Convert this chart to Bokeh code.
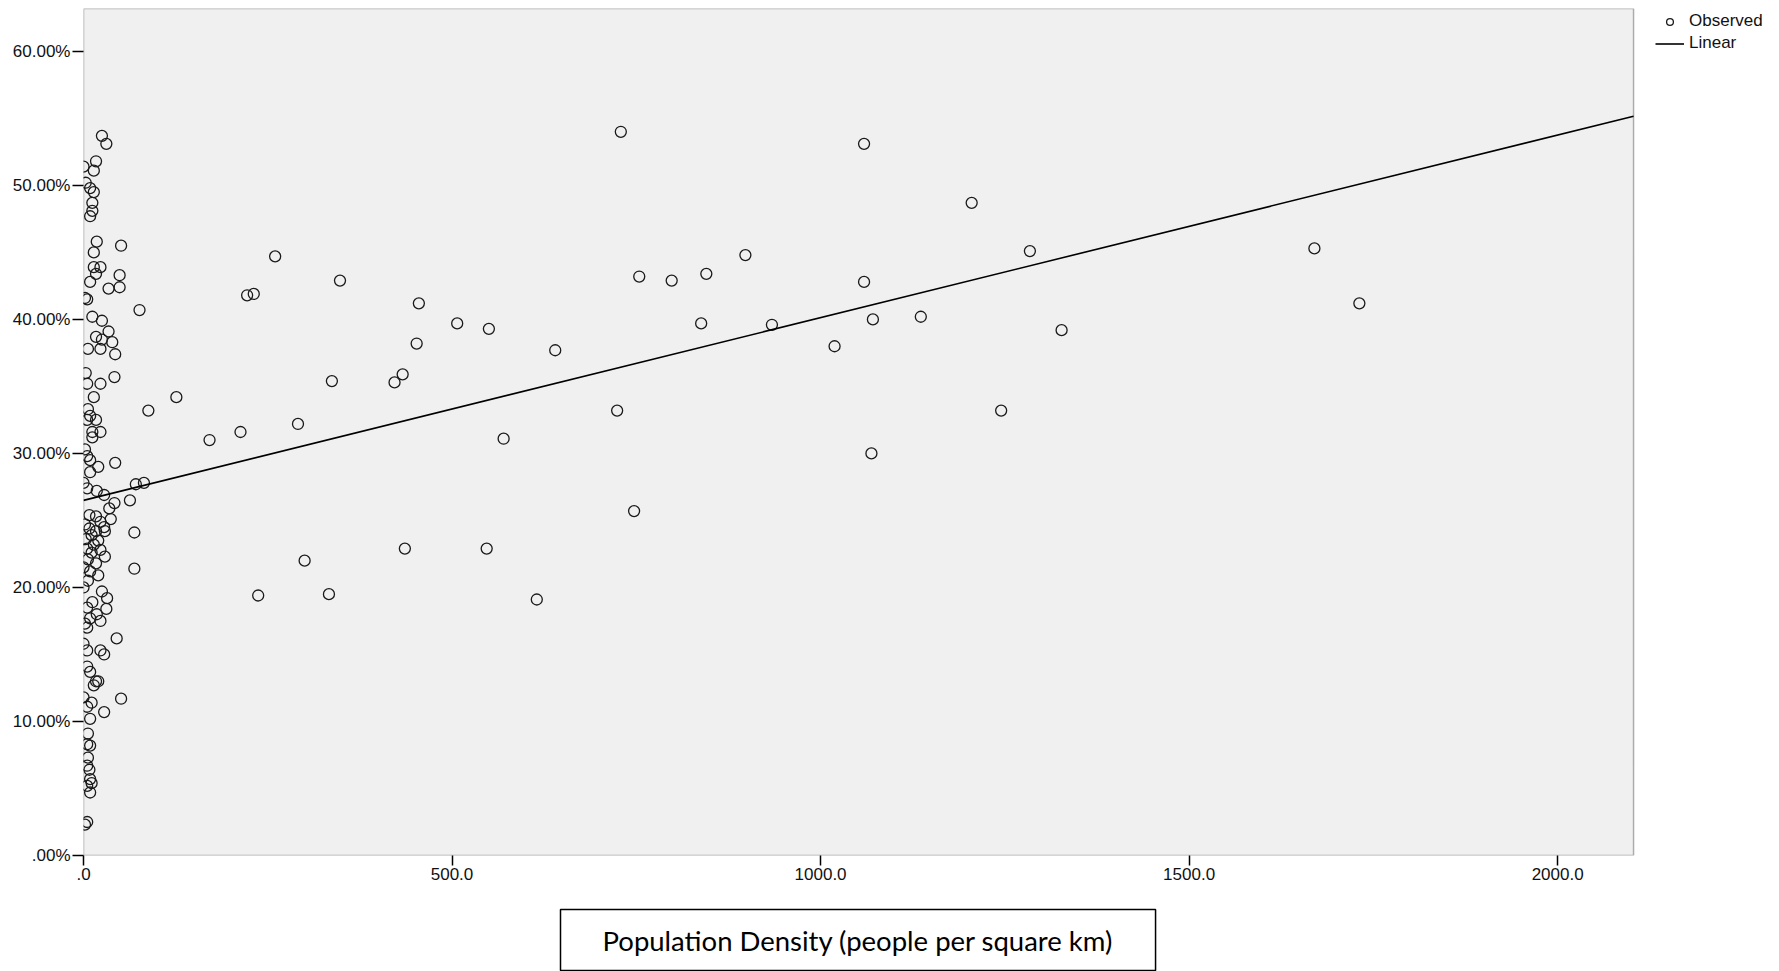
from bokeh.plotting import figure
from bokeh.models import (Range1d, FixedTicker, CustomJSTickFormatter, Legend,
                          LegendItem, Title, BoxAnnotation, ColumnDataSource)
from bokeh.embed import file_html
from bokeh.resources import INLINE

# observed points: population density vs percentage
density = [729, 1059, 1205, 1284, 1670, 1731, 898, 754, 798, 845, 1059, 1071, 1136, 1327,
           838, 934, 1019, 1245, 1069, 724, 747, 570, 640, 507, 550, 455, 452, 433, 422,
           348, 337, 291, 260, 222, 231, 213, 171, 126, 88, 76, 547, 436, 300, 237, 333,
           615, 82, 71, 63, 69, 69, 51, 45,
           25, 31, 17, 14, 0, 3, 9, 14, 12, 12, 9, 18, 51, 14, 14, 23, 17, 49, 9, 34, 49,
           2, 5, 12, 25, 34, 17, 25, 39, 23, 6, 43, 3, 42, 5, 23, 14, 6, 9, 5, 17, 12,
           23, 12, 2, 5, 9, 20, 43, 9, 0, 5, 18, 28, 42, 35, 8, 17, 37, 2, 23, 28, 8, 17,
           11, 29, 3, 20, 14, 5, 23, 11, 29, 6, 17, 0, 9, 20, 6, 0, 25, 32, 12, 5, 31, 18,
           9, 2, 23, 5, 0, 5, 23, 28, 5, 9, 17, 20, 14, 0, 11, 5, 28, 9, 6, 5, 9, 6, 5, 8,
           9, 5, 11, 9, 5, 2]
share = [54.0, 53.1, 48.7, 45.1, 45.3, 41.2, 44.8, 43.2, 42.9, 43.4, 42.8, 40.0, 40.2, 39.2,
         39.7, 39.6, 38.0, 33.2, 30.0, 33.2, 25.7, 31.1, 37.7, 39.7, 39.3, 41.2, 38.2, 35.9,
         35.3, 42.9, 35.4, 32.2, 44.7, 41.8, 41.9, 31.6, 31.0, 34.2, 33.2, 40.7, 22.9, 22.9,
         22.0, 19.4, 19.5, 19.1, 27.8, 27.7, 26.5, 24.1, 21.4, 11.7, 16.2,
         53.7, 53.1, 51.8, 51.1, 51.4, 50.2, 49.8, 49.5, 48.7, 48.1, 47.7, 45.8, 45.5, 45.0,
         43.9, 43.9, 43.4, 43.3, 42.8, 42.3, 42.4, 41.6, 41.5, 40.2, 39.9, 39.1, 38.7, 38.5,
         38.3, 37.8, 37.8, 37.4, 36.0, 35.7, 35.2, 35.2, 34.2, 33.3, 32.8, 32.5, 32.5, 31.6,
         31.6, 31.2, 30.3, 29.8, 29.5, 29.0, 29.3, 28.6, 27.8, 27.4, 27.2, 26.9, 26.3, 25.9,
         25.4, 25.3, 25.1, 24.7, 24.9, 24.5, 24.4, 24.2, 23.9, 24.2, 23.6, 23.5, 23.2, 22.9,
         22.8, 22.6, 22.3, 22.1, 21.8, 21.5, 21.2, 20.9, 20.5, 20.0, 19.7, 19.2, 18.9, 18.5,
         18.4, 18.0, 17.7, 17.3, 17.5, 17.0, 15.8, 15.3, 15.3, 15.0, 14.1, 13.7, 13.0, 13.0,
         12.7, 11.8, 11.4, 11.1, 10.7, 10.2, 9.1, 8.3, 8.2, 7.3, 6.7, 6.4, 5.7, 5.2, 5.4,
         4.7, 2.5, 2.3]

# linear fit
fit_intercept = 26.5
fit_slope = 0.01363

x_ticks = [0, 500, 1000, 1500, 2000]
y_ticks = [0, 10, 20, 30, 40, 50, 60]
x_max = 2103      # right edge of the grey plot area
x_canvas = 2301   # frame runs on to the page edge so the legend can sit there
y_max = 63.2

p = figure(width=1779, height=971, output_backend="svg", toolbar_location=None,
           x_range=Range1d(0, x_canvas), y_range=Range1d(0, y_max),
           min_border_left=83, min_border_right=0, min_border_top=8, min_border_bottom=111)

p.background_fill_color = "white"
p.border_fill_color = "white"
p.outline_line_color = None
p.xgrid.visible = False
p.ygrid.visible = False

# grey plot area with its black frame
area = BoxAnnotation(left=0, right=x_max, bottom=0, top=y_max, level="underlay",
                     fill_color="#f0f0f0", fill_alpha=1,
                     line_color="black", line_width=1.5)
p.add_layout(area)

for ax in (p.xaxis[0], p.yaxis[0]):
    ax.major_tick_in = 0
    ax.minor_tick_line_color = None
    ax.major_tick_line_color = "black"
    ax.major_tick_line_width = 1.5
    ax.major_label_text_font = "Liberation Sans"
    ax.major_label_text_font_size = "17px"
    ax.major_label_text_color = "#111111"
    ax.axis_line_color = None

p.xaxis.major_tick_out = 10
p.yaxis.major_tick_out = 11
p.xaxis.ticker = FixedTicker(ticks=x_ticks)
p.yaxis.ticker = FixedTicker(ticks=y_ticks)
p.xaxis.formatter = CustomJSTickFormatter(code="return tick == 0 ? '.0' : tick.toFixed(1);")
p.yaxis.formatter = CustomJSTickFormatter(code="return tick == 0 ? '.00%' : tick.toFixed(2) + '%';")
p.xaxis.major_label_standoff = 2
p.yaxis.major_label_standoff = 2
# blank axis label only used as a spacer above the boxed title
p.xaxis.axis_label = " "
p.xaxis.axis_label_text_font_size = "10px"
p.xaxis.axis_label_standoff = 10

src = ColumnDataSource(data=dict(x=density, y=share))
obs = p.scatter("x", "y", source=src, marker="circle", size=11, fill_alpha=0,
                line_color="#1a1a1a", line_width=1.3)

fit_x = [0, x_max]
fit_y = [fit_intercept + fit_slope * v for v in fit_x]
lin = p.line(fit_x, fit_y, line_color="black", line_width=1.6)

legend = Legend(items=[LegendItem(label="Observed", renderers=[obs]),
                       LegendItem(label="Linear", renderers=[lin])],
                location=(1572, 802), margin=0, padding=0, spacing=2,
                glyph_width=29, glyph_height=17, label_height=17, label_standoff=5,
                label_text_font="Liberation Sans", label_text_font_size="17px",
                label_text_color="#111111",
                border_line_color=None, background_fill_alpha=0)
p.add_layout(legend)

xlabel = Title(text="Population Density (people per square km)", align="left", offset=477,
               text_font="Lato", text_font_size="27.5px", text_font_style="normal",
               text_color="black", border_line_color="black", border_line_width=1.5,
               background_fill_color="white", standoff=2,
               padding=dict(left=42, right=42, top=14, bottom=14))
p.add_layout(xlabel, "below")

open("out.html", "w").write(file_html(p, INLINE))
